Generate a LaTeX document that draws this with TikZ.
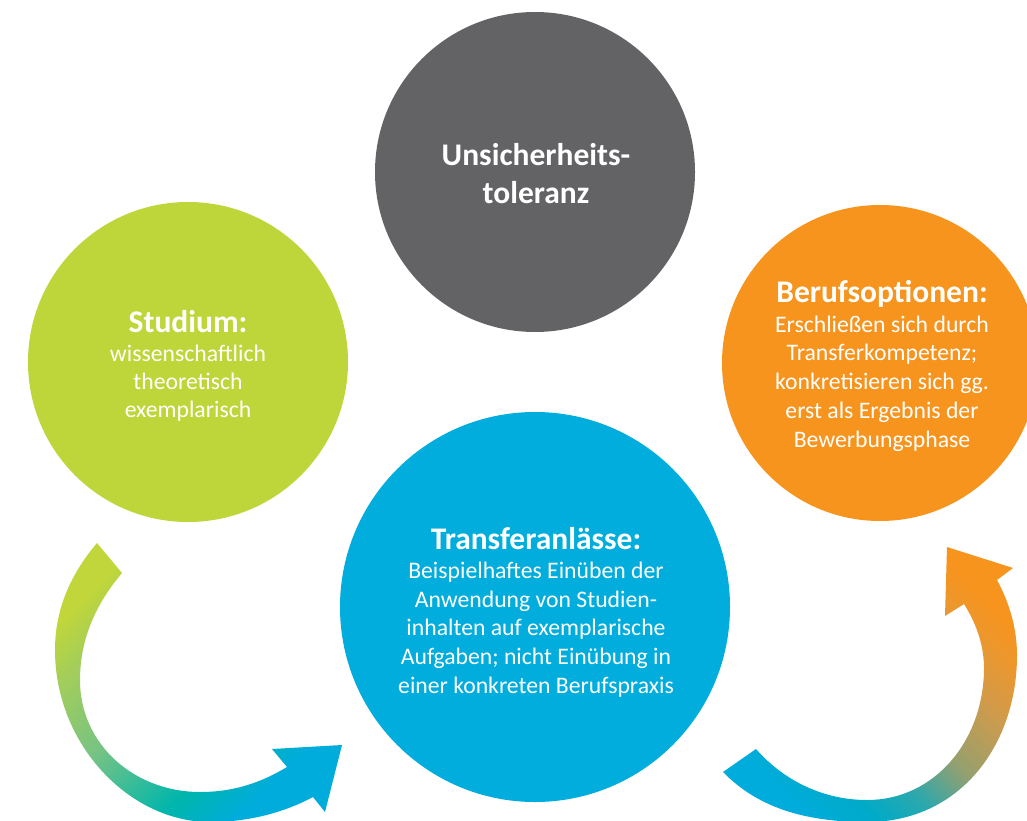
\documentclass[tikz,border=0pt]{standalone}
\usepackage{fontspec}
\setmainfont{Carlito}
\definecolor{cgray}{RGB}{99,99,101}
\definecolor{cgreen}{RGB}{190,214,58}
\definecolor{corange}{RGB}{247,148,30}
\definecolor{cblue}{RGB}{0,173,220}
\definecolor{lg0}{RGB}{192,214,58}
\definecolor{lg1}{RGB}{165,206,88}
\definecolor{lg2}{RGB}{118,195,132}
\definecolor{lg3}{RGB}{0,182,172}
\definecolor{lg4}{RGB}{0,172,220}
\definecolor{rg0}{RGB}{0,172,220}
\definecolor{rg1}{RGB}{0,170,200}
\definecolor{rg2}{RGB}{45,168,172}
\definecolor{rg3}{RGB}{150,160,110}
\definecolor{rg4}{RGB}{212,154,72}
\definecolor{rg5}{RGB}{236,151,45}
\definecolor{rg6}{RGB}{247,148,30}
\pgfdeclarehorizontalshading{leftarrowshade}{100bp}{color(0bp)=(lg0); color(25bp)=(lg0); color(32bp)=(lg1); color(46bp)=(lg2); color(62bp)=(lg3); color(72bp)=(lg4); color(75bp)=(lg4); color(100bp)=(lg4)}
\pgfdeclarehorizontalshading{rightarrowshade}{100bp}{color(0bp)=(rg0); color(25bp)=(rg0); color(34bp)=(rg1); color(42bp)=(rg2); color(51bp)=(rg3); color(63bp)=(rg4); color(70bp)=(rg5); color(75bp)=(rg6); color(100bp)=(rg6)}
\begin{document}
\begin{tikzpicture}[x=1pt,y=-1pt,
  bubble/.style={circle, inner sep=0pt, draw=none},
  titletext/.style={font=\fontsize{31.5}{36}\selectfont\bfseries, text=white, anchor=base, inner sep=0pt},
  bodytext/.style={font=\fontsize{23.7}{28.7}\selectfont, text=white, anchor=base, inner sep=0pt}]
\fill[white] (0,0) rectangle (1027,821);
\useasboundingbox (0,0) rectangle (1027,821);

% left curved arrow
\shade[shading=leftarrowshade, shading angle=-45]
  (97,543) .. controls (70,575) and (55,610) .. (55,650)
  .. controls (55,745) and (130,822) .. (210,822)
  .. controls (250,822) and (285,812) .. (313,797)
  -- (325,812) -- (342,745) -- (272,749) -- (287,767)
  .. controls (262,782) and (235,792) .. (200,792)
  .. controls (135,792) and (80,745) .. (80,680)
  .. controls (80,640) and (95,605) .. (122,573) -- cycle;

% right curved arrow
\shade[shading=rightarrowshade, shading angle=45]
  (723,772) .. controls (760,810) and (810,822) .. (867,822)
  .. controls (960,822) and (1017,745) .. (1017,655)
  .. controls (1017,628) and (1009,602) .. (997,580)
  -- (1013,568) -- (947,547) -- (945,616) -- (964,604)
  .. controls (976,623) and (984,645) .. (984,668)
  .. controls (984,740) and (935,800) .. (867,800)
  .. controls (825,800) and (785,782) .. (756,749) -- cycle;

% circles
\node[bubble, fill=cgray, minimum size=320pt] (unsicher) at (535,172) {};
\node[bubble, fill=cgreen, minimum size=320pt] (studium) at (188,362) {};
\node[bubble, fill=corange, minimum size=316pt] (beruf) at (880,363) {};
\node[bubble, fill=cblue, minimum size=390pt] (transfer) at (535,607) {};

% texts gray
\node[titletext] (u1) at (536,166) {Unsicherheits-};
\node[titletext] (u2) at (536,203) {toleranz};

% texts green
\node[titletext] (s0) at (188,332) {Studium:};
\node[bodytext] (s1) at (188,361) {wissenschaftlich};
\node[bodytext] (s2) at (188,389) {theoretisch};
\node[bodytext] (s3) at (188,417) {exemplarisch};

% texts orange
\node[titletext] (b0) at (882,302) {Berufsoptionen:};
\node[bodytext] (b1) at (882,332) {Erschließen sich durch};
\node[bodytext] (b2) at (882,360) {Transferkompetenz;};
\node[bodytext] (b3) at (882,389) {konkretisieren sich gg.};
\node[bodytext] (b4) at (882,418) {erst als Ergebnis der};
\node[bodytext] (b5) at (882,447) {Bewerbungsphase};

% texts blue
\node[titletext] (t0) at (536,549) {Transferanlässe:};
\node[bodytext] (t1) at (536,578) {Beispielhaftes Einüben der};
\node[bodytext] (t2) at (536,607) {Anwendung von Studien-};
\node[bodytext] (t3) at (536,635) {inhalten auf exemplarische};
\node[bodytext] (t4) at (536,664) {Aufgaben; nicht Einübung in};
\node[bodytext] (t5) at (536,693) {einer konkreten Berufspraxis};
\end{tikzpicture}
\end{document}
